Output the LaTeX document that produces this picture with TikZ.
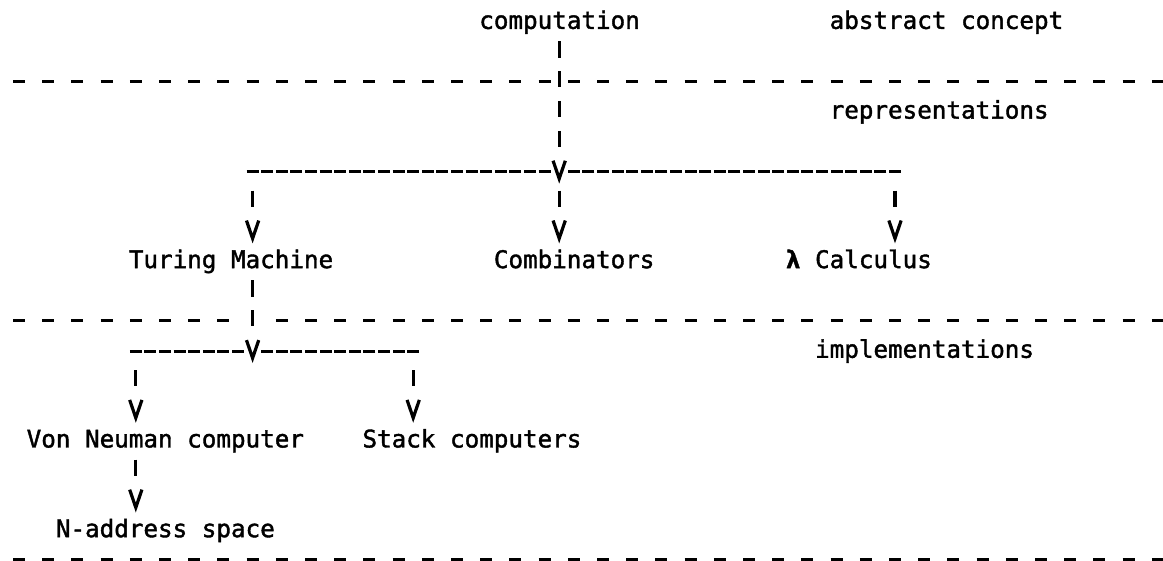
\documentclass[tikz,border=0pt]{standalone}
\usepackage{fontspec}
\newfontfamily\monofont{DejaVu Sans Mono}[FakeBold=1.6]
\tikzset{
  lbl/.style={font=\monofont\fontsize{12.12pt}{14.95pt}\selectfont, inner sep=0pt, anchor=base west},
  inkline/.style={line width=1.6pt},
  divider/.style={inkline, dash pattern=on 5.99pt off 8.61pt},
  bus/.style={inkline, dash pattern=on 5.99pt off 1.31pt, shorten >=4.31pt},
  bars/.style={inkline, dash pattern=on 8.2pt off 6.75pt, shorten >=11.3pt},
  vee/.pic={\draw[inkline, line join=miter] (-0.42,-0.3) -- (0,0.3) -- (0.42,-0.3);}
}
\begin{document}
\begin{tikzpicture}[x=7.3pt, y=-14.95pt]
\useasboundingbox (-1.3014,-0.6756) rectangle (78.356,18.087);

% texts, one row = one printed line
\node[lbl] (comp) at (31.5,0.29) {computation};
\node[lbl] (abstract) at (55.5,0.29) {abstract concept};
\node[lbl] (repr) at (55.5,3.29) {representations};
\node[lbl] (turing) at (7.5,8.29) {Turing Machine};
\node[lbl] (comb) at (32.5,8.29) {Combinators};
\node[lbl] (lambda) at (52.5,8.29) {\textbf{λ} Calculus};
\node[lbl] (impl) at (54.5,11.29) {implementations};
\node[lbl] (vonneuman) at (0.5,14.29) {Von Neuman computer};
\node[lbl] (stack) at (23.5,14.29) {Stack computers};
\node[lbl] (naddr) at (2.5,17.29) {N-address space};

% level dividers
\draw[divider] (-0.41,2.05) -- (78.41,2.05);
\draw[divider] (-0.41,10.05) -- (14.41,10.05) (17.59,10.05) -- (78.41,10.05);
\draw[divider] (-0.41,18.05) -- (78.41,18.05);

% where the V heads sit
\coordinate (v1) at (37,5);
\coordinate (v2) at (16,7);
\coordinate (v3) at (37,7);
\coordinate (v4) at (60,7);
\coordinate (v5) at (16,11);
\coordinate (v6) at (8,13);
\coordinate (v7) at (27,13);
\coordinate (v8) at (8,16);

% top of each column of bars
\coordinate (t1) at (37,0.7);
\coordinate (t2) at (16,5.7);
\coordinate (t3) at (37,5.7);
\coordinate (t4) at (60,5.7);
\coordinate (t5) at (16,8.7);
\coordinate (t6) at (8,11.7);
\coordinate (t7) at (27,11.7);
\coordinate (t8) at (8,14.7);

% branch lines
\coordinate (b1l) at (15.59,5.07);
\coordinate (b1r) at (60.41,5.07);
\coordinate (b2l) at (7.59,11.07);
\coordinate (b2r) at (27.41,11.07);
\draw[bus] (b1l) -- (b1l -| v1);
\draw[bus] (b1r) -- (b1r -| v1);
\draw[bus] (b2l) -- (b2l -| v5);
\draw[bus] (b2r) -- (b2r -| v5);

% connectors
\foreach \i in {1,...,8}
  \draw[bars] (t\i) -- (v\i);
\foreach \i in {1,...,8}
  \pic at (v\i) {vee};
\end{tikzpicture}
\end{document}
